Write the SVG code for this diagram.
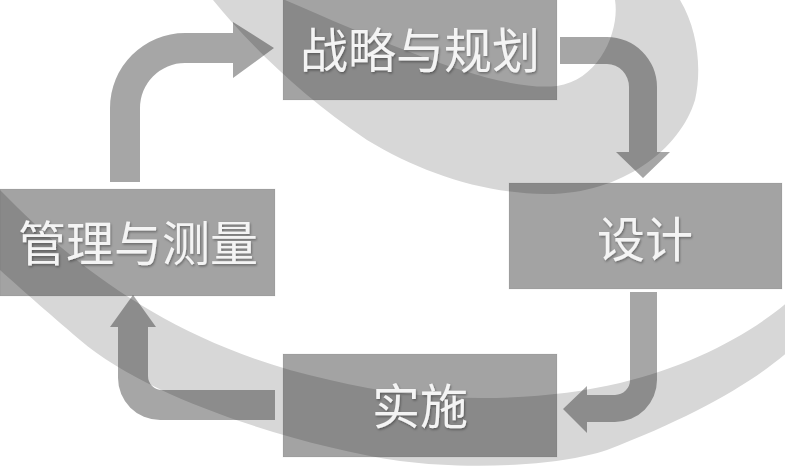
<svg xmlns="http://www.w3.org/2000/svg" width="785" height="467" viewBox="0 0 785 467">
<defs>
<style>
.swoosh{fill:#d7d7d7;stroke:none}
.box{fill:#000;fill-opacity:0.36;stroke:#000;stroke-opacity:0.06;stroke-width:1}
.arrow{fill:#000;fill-opacity:0.35;stroke:none}
.lbl{font-family:"Noto Sans CJK SC","Noto Sans CJK JP",sans-serif;font-size:48px;fill:#f4f4f4;text-anchor:middle;dominant-baseline:central;filter:url(#sh)}
</style>
<filter id="sh" x="-10%" y="-20%" width="120%" height="140%">
<feDropShadow dx="1" dy="1.5" stdDeviation="1" flood-color="#000" flood-opacity="0.35"/>
</filter>
</defs>
<rect width="785" height="467" fill="#ffffff"/>
<g id="background">
<path class="swoosh" d="M213,0 C250,45 300,95 367,140 C420,172 480,193 545,194 C620,195 680,150 695,100 C702,70 698,30 680,0 L615,0 C620,30 600,80 557,86 C500,92 400,50 285,0 Z"/>
<path class="swoosh" d="M0,190 C70,262 170,345 330,380 C430,405 540,402 620,383 C690,366 750,335 790,300 L790,350 C750,385 690,418 607,450 C560,466 470,470 400,461 C300,446 150,400 80,340 C45,310 20,288 0,270 Z"/>
</g>
<g id="connectors">
<path class="arrow" d="M110,182 L110,108 A75,75 0 0 1 185,33 L233,33 L233,22 L274,48 L233,78 L233,63 L185,63 A45,45 0 0 0 140,108 L140,182 Z"/>
<path class="arrow" d="M560,37 L607,37 A50,50 0 0 1 657,87 L657,152 L670,152 L643,178 L616,152 L629,152 L629,87 A22,23 0 0 0 607,64 L560,64 Z"/>
<path class="arrow" d="M630,292 L657,292 L657,380 A42,42 0 0 1 615,422 L587,422 L587,433 L563,409 L587,386 L587,395 L615,395 A15,15 0 0 0 630,380 Z"/>
<path class="arrow" d="M275,390 L275,420 L160,420 A42,42 0 0 1 118,378 L118,327 L110,327 L133,295 L156,327 L148,327 L148,376 A14,14 0 0 0 162,390 Z"/>
</g>
<g id="node-strategy">
<rect class="box" x="283" y="-2" width="274" height="102"/>
<text class="lbl" x="420" y="47">战略与规划</text>
</g>
<g id="node-design">
<rect class="box" x="509" y="183" width="273" height="106"/>
<text class="lbl" x="645" y="236">设计</text>
</g>
<g id="node-implement">
<rect class="box" x="283" y="354" width="274" height="103"/>
<text class="lbl" x="420" y="403">实施</text>
</g>
<g id="node-manage">
<rect class="box" x="0" y="189" width="275" height="107"/>
<text class="lbl" x="138" y="240">管理与测量</text>
</g>
</svg>
